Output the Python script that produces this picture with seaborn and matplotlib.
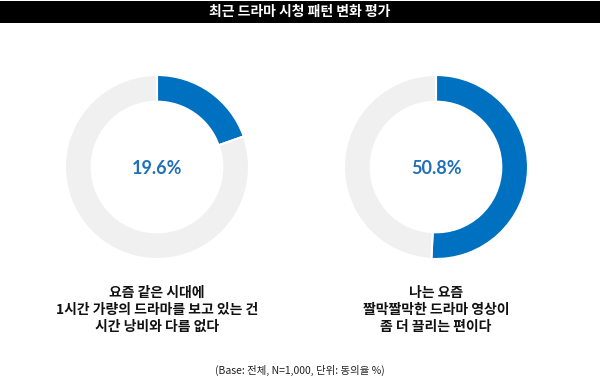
import matplotlib
matplotlib.use("Agg")
import matplotlib.pyplot as plt
import seaborn as sns

# ---------------------------------------------------------
# Data
# ---------------------------------------------------------
title = "최근 드라마 시청 패턴 변화 평가"
agree_pct = [19.6, 50.8]
statements = [
    "요즘 같은 시대에\n1시간 가량의 드라마를 보고 있는 건\n시간 낭비와 다름 없다",
    "나는 요즘\n짤막짤막한 드라마 영상이\n좀 더 끌리는 편이다",
]
footnote = "(Base: 전체, N=1,000, 단위: 동의율 %)"

BLUE = "#0070C0"
GRAY = "#F0F0F0"

sns.set_theme(style="white")
plt.rcParams["font.family"] = ["Noto Sans CJK KR", "DejaVu Sans"]

fig = plt.figure(figsize=(6, 3.83), dpi=100)
fig.patch.set_facecolor("white")

# title bar
bar = fig.add_axes([0, 1 - 23 / 383, 1, 22 / 383])
bar.set_facecolor("black")
bar.set_xticks([])
bar.set_yticks([])
for s in bar.spines.values():
    s.set_visible(False)
bar.text(0.5, 0.5, title, color="white", fontsize=10, fontweight="bold",
         ha="center", va="center", transform=bar.transAxes)

# donuts
centers_x = [157, 436]
cy, r = 167, 92
for cx, pct, label in zip(centers_x, agree_pct, statements):
    ax = fig.add_axes([(cx - r) / 600, (383 - cy - r) / 383, 2 * r / 600, 2 * r / 383])
    ax.pie([pct, 100 - pct], colors=[BLUE, GRAY], startangle=90, counterclock=False,
           wedgeprops=dict(width=0.29, edgecolor="white", linewidth=1.5))
    ax.set_xlim(-1, 1)
    ax.set_ylim(-1, 1)
    ax.set_aspect("auto")
    ax.text(0, -0.02, f"{pct:.1f}%", ha="center", va="center", fontsize=13,
            fontweight="bold", color="#1F70B8", family=["Lato", "DejaVu Sans"])
    fig.text(cx / 600, 1 - 310 / 383, label, ha="center", va="center",
             fontsize=10, fontweight="bold", color="#111111", linespacing=1.25)

fig.text(0.5, 1 - 370 / 383, footnote, ha="center", va="center", fontsize=7.5,
         color="#222222")

fig.savefig("out.png", dpi=100, facecolor="white")
